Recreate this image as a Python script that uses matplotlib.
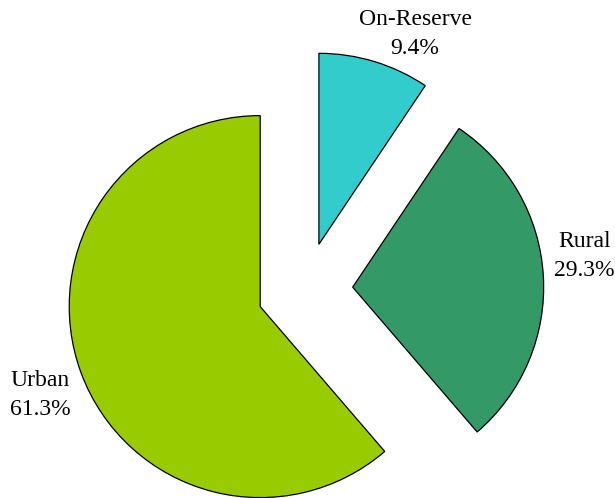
import matplotlib.pyplot as plt

plt.rcParams['font.family'] = ['Liberation Serif', 'DejaVu Serif']

names = ["On-Reserve", "Rural", "Urban"]
shares = [9.4, 29.3, 61.3]
colors = ["#33CCCC", "#339966", "#99CC00"]
explode = [0.25, 0.25, 0.25]
# label anchor points, in units of the pie radius
label_xy = [(0.576, 1.340), (1.462, 0.178), (-1.387, -0.550)]

fig = plt.figure(figsize=(6.15, 4.98), dpi=100)
ax = fig.add_axes([0, 0, 1, 1])

wedges, _ = ax.pie(shares, colors=colors, explode=explode, startangle=90,
                   counterclock=False, radius=1.0,
                   wedgeprops=dict(edgecolor="black", linewidth=0.9))

for name, val, (x, y) in zip(names, shares, label_xy):
    ax.text(x, y, f"{name}\n{val:.1f}%", ha="center", va="center",
            fontsize=17, linespacing=1.45, multialignment="center")

ax.set_aspect("auto")
ax.set_xlim(-305 / 191, 310 / 191)
ax.set_ylim(-208 / 191, 290 / 191)
ax.axis("off")

fig.savefig("out.png", dpi=100)
